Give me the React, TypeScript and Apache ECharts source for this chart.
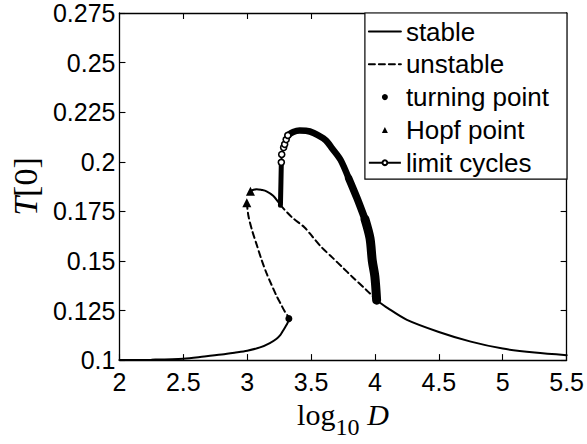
import React, { useEffect, useRef } from "react";
import * as echarts from "echarts";

// ---- data ----
const xTickValues = [2, 2.5, 3, 3.5, 4, 4.5, 5, 5.5];
const yTickValues = [0.1, 0.125, 0.15, 0.175, 0.2, 0.225, 0.25, 0.275];
const legendNames = ["stable", "unstable", "turning point", "Hopf point", "limit cycles"];

const stableLower = [
  [2.0, 0.1], [2.25, 0.1002], [2.5, 0.1007], [2.663, 0.1018], [2.8, 0.1028],
  [2.9, 0.1037], [3.0, 0.1047], [3.1, 0.1064], [3.177, 0.1086], [3.23, 0.1108],
  [3.26, 0.1127], [3.28, 0.1148], [3.3, 0.1169], [3.317, 0.1189], [3.326, 0.1209],
];
const stableArc = [
  [3.025, 0.1851], [3.05, 0.1859], [3.074, 0.1862], [3.112, 0.1858], [3.151, 0.1851],
  [3.203, 0.1829], [3.241, 0.1799], [3.26, 0.1781],
];
const stableRight = [
  [4.013, 0.1302], [4.1, 0.1262], [4.25, 0.1203], [4.5, 0.1142], [4.75, 0.1093],
  [5.0, 0.1058], [5.25, 0.1038], [5.5, 0.1025],
];
const unstableLeft = [
  [2.997, 0.1793], [3.01, 0.1725], [3.04, 0.165], [3.074, 0.1582], [3.11, 0.151],
  [3.151, 0.1438], [3.19, 0.138], [3.228, 0.1326], [3.265, 0.128], [3.293, 0.1246],
  [3.315, 0.1225], [3.326, 0.1209],
];
const unstableRight = [
  [3.26, 0.1781], [3.35, 0.172], [3.447, 0.167], [3.511, 0.1622], [3.58, 0.157],
  [3.665, 0.1518], [3.75, 0.1465], [3.819, 0.1422], [3.93, 0.1355], [4.013, 0.1302],
];
const turningPoints = [[3.326, 0.1209]];
const hopfPoints = [[2.997, 0.1793], [3.025, 0.1851]];
const limitCycleCircles = [
  [3.267, 0.1997], [3.27, 0.2037], [3.285, 0.2072], [3.293, 0.2088], [3.305, 0.2112], [3.318, 0.2133],
];
const limitCycleStem = [
  [3.26, 0.1781], [3.264, 0.19], [3.267, 0.1997],
];
const limitCycleArcUpper = [
  [3.318, 0.2133], [3.36, 0.215], [3.41, 0.2157], [3.46, 0.2156], [3.52, 0.2145],
  [3.614, 0.2109], [3.665, 0.2067], [3.73, 0.201], [3.794, 0.1917],
];
const limitCycleArcMiddle = [
  [3.794, 0.1917], [3.86, 0.1815], [3.922, 0.171],
];
const limitCycleArcLower = [
  [3.922, 0.171], [3.961, 0.1614], [3.979, 0.15], [3.999, 0.1422], [4.013, 0.1302],
];

const SANS = "'Liberation Sans', Arial, Helvetica, sans-serif";
const SERIF = "'Liberation Serif', 'Times New Roman', serif";

export default function App() {
  const ref = useRef<HTMLDivElement>(null);
  useEffect(() => {
    if (!ref.current) return;
    const chart = echarts.init(ref.current, null, { renderer: "svg" });
    const black = "#000";
    const axisCommon = {
      axisLine: { show: true, onZero: false, lineStyle: { color: black, width: 1.3 } },
      axisTick: { show: true, inside: true, length: 6, lineStyle: { color: black, width: 1.1 } },
      splitLine: { show: false },
    };
    const fmt = (v: number) => String(+(+v).toFixed(3));
    const lineSeries = (
      name: string, data: number[][], width: number, dashed = false, z = 2, smooth: number | boolean = 0.3
    ) => ({
      type: "line",
      name,
      data,
      symbol: "none",
      smooth,
      z,
      lineStyle: { color: black, width, type: dashed ? [6, 4] : "solid", cap: "round" },
      itemStyle: { color: black },
    });
    const hideSymbol = { color: "rgba(0,0,0,0)", borderColor: "rgba(0,0,0,0)", opacity: 0 };
    const option: any = {
      animation: false,
      backgroundColor: "#fff",
      grid: { left: 114, right: 19, top: 13, bottom: 66 },
      xAxis: [
        {
          type: "value", min: xTickValues[0], max: xTickValues[xTickValues.length - 1], interval: 0.5,
          position: "bottom",
          ...axisCommon,
          axisLabel: { color: black, fontSize: 25, fontFamily: SANS, margin: 9, formatter: fmt },
          name: "{a|log}{b|10}{c|D}",
          nameLocation: "middle",
          nameGap: 17,
          nameTextStyle: {
            rich: {
              a: { fontFamily: SERIF, fontSize: 30, lineHeight: 50, color: black },
              b: { fontFamily: SERIF, fontSize: 24, lineHeight: 24, verticalAlign: "bottom", color: black },
              c: { fontFamily: SERIF, fontSize: 30, lineHeight: 50, fontStyle: "italic", padding: [0, 0, 0, 8], color: black },
            },
          },
        },
        {
          type: "value", min: xTickValues[0], max: xTickValues[xTickValues.length - 1], interval: 0.5,
          position: "top",
          ...axisCommon,
          axisLabel: { show: false },
        },
      ],
      yAxis: [
        {
          type: "value", min: yTickValues[0], max: yTickValues[yTickValues.length - 1], interval: 0.025,
          position: "left",
          ...axisCommon,
          axisLabel: { color: black, fontSize: 25, fontFamily: SANS, margin: 4, formatter: fmt },
          name: "{t|T}[0]",
          nameLocation: "middle",
          nameGap: 76,
          nameTextStyle: {
            fontFamily: SERIF, fontSize: 34, color: black,
            rich: { t: { fontFamily: SERIF, fontSize: 34, fontStyle: "italic", color: black } },
          },
        },
        {
          type: "value", min: yTickValues[0], max: yTickValues[yTickValues.length - 1], interval: 0.025,
          position: "right",
          ...axisCommon,
          axisLabel: { show: false },
        },
      ],
      legend: {
        orient: "vertical",
        right: 20,
        top: 13,
        selectedMode: false,
        backgroundColor: "#fff",
        borderColor: black,
        borderWidth: 1.2,
        borderRadius: 0,
        padding: [5, 18, 3, 3],
        itemWidth: 32,
        itemHeight: 6,
        itemGap: 5.8,
        data: [
          { name: legendNames[0], itemStyle: hideSymbol },
          { name: legendNames[1], itemStyle: hideSymbol },
          { name: legendNames[2] },
          { name: legendNames[3], icon: "path://M5,0L10,10L0,10Z" },
          { name: legendNames[4] },
        ],
        textStyle: { color: black, fontSize: 26, fontFamily: SANS, lineHeight: 27 },
      },
      series: [
        lineSeries("stable", stableLower, 2),
        lineSeries("stable", stableArc, 2),
        lineSeries("stable", stableRight, 2),
        lineSeries("unstable", unstableLeft, 2, true),
        lineSeries("unstable", unstableRight, 2, true),
        {
          type: "line",
          name: "limit cycles",
          data: limitCycleCircles,
          symbol: "circle",
          symbolSize: 6,
          showSymbol: true,
          z: 4,
          lineStyle: { color: black, width: 1.8 },
          itemStyle: { color: "#fff", borderColor: black, borderWidth: 1.6 },
        },
        lineSeries("limit cycles", limitCycleStem, 5, false, 3, false),
        lineSeries("limit cycles", limitCycleArcUpper, 6.5, false, 3),
        lineSeries("limit cycles", limitCycleArcMiddle, 7.5, false, 3),
        lineSeries("limit cycles", limitCycleArcLower, 9, false, 3),
        {
          type: "scatter",
          name: "turning point",
          data: turningPoints,
          symbol: "circle",
          symbolSize: 7,
          z: 5,
          itemStyle: { color: black, opacity: 1 },
        },
        {
          type: "scatter",
          name: "Hopf point",
          data: hopfPoints,
          symbol: "triangle",
          symbolSize: 9,
          z: 5,
          itemStyle: { color: black, opacity: 1 },
        },
      ],
    };
    chart.setOption(option);
    return () => chart.dispose();
  }, []);
  return (
    <div
      ref={ref}
      style={{ position: "fixed", left: 0, top: 0, width: 587, height: 444, background: "#fff" }}
    />
  );
}
